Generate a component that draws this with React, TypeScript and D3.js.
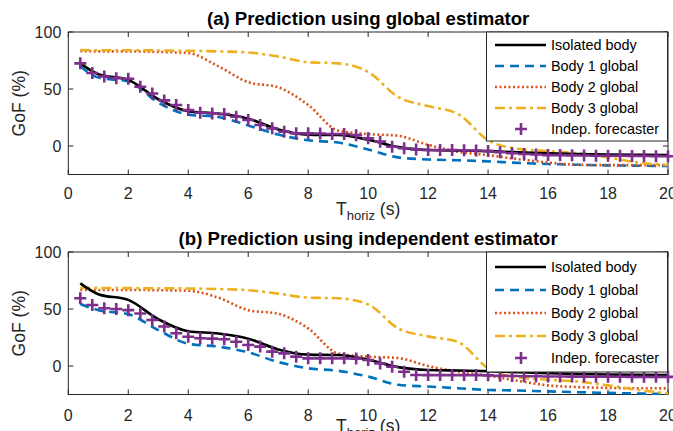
import { useEffect, useRef } from 'react';
import * as d3 from 'd3';

const W = 673;
const H = 431;

// time grid for the lines (s)
const lineT = [0.4, 1, 2, 3, 4, 5, 6, 7, 8, 9, 10, 11, 12, 13, 14, 15, 16, 17, 18, 19, 20];
// time grid for the independent forecaster markers (s)
const markT = d3.range(1, 51).map(i => +(i * 0.4).toFixed(1));

const isolated = [72.5, 63, 58, 41, 30.5, 28.5, 24, 14.5, 10, 9.6, 5.5, -1, -3.5, -4, -4.5, -5.5, -6.3, -7, -7.5, -7.8, -8];

const globalB1 = [70, 60, 56.5, 38, 27.5, 25.5, 18, 10, 5, 3, -3, -10, -11.8, -12.5, -13.5, -14.8, -15.8, -16.5, -17, -17.3, -17.5];
const globalB2 = [83.3, 83, 83, 82.5, 81.5, 70, 56, 51.5, 36, 13.5, 10.5, 9, 1, -5, -8, -11.5, -14.5, -16.5, -16.8, -16.8, -16.7];
const globalB3 = [84.2, 84, 84, 83.8, 83.5, 83, 82, 78.5, 73.5, 72.5, 65, 43, 35, 28, 5, -2.5, -4.5, -6.4, -10, -14.5, -16.7];
const globalIndep = [72.5, 64, 61, 59.5, 59, 52, 46, 40, 36, 31.5, 29.2, 28.6, 28, 25.7, 22.8, 18.4, 15.5, 12.6, 11.1, 11.1,
  11, 10.5, 10.5, 9.5, 6.7, 3.8, -0.6, -2, -3, -3.5, -3.5, -3.5, -3.8, -4, -4.4, -5.5, -6.4, -7, -7.5, -8,
  -8, -8.2, -8.3, -8.5, -8.5, -8.6, -8.7, -8.8, -8.9, -9];

const indepB1 = [54.4, 49, 45.5, 31.5, 19.5, 17, 12, 3.5, -2, -4.2, -9.3, -16.5, -18, -19.5, -21, -21.5, -22.3, -23, -23.6, -24.1, -24.5];
const indepB2 = [66.7, 66.7, 66.7, 66.5, 66, 60, 49, 45.8, 33, 11, 8.2, 7, 0, -5, -8.5, -13, -17, -18.5, -19.2, -19.5, -19.6];
const indepB3 = [68.7, 68.5, 68.3, 68.2, 68, 67.5, 66.5, 63.5, 60, 59.4, 54, 33, 26, 21, -2, -10, -12, -13.7, -17, -21, -24];
const indepIndep = [59.4, 53.5, 50.6, 50, 49, 46, 40.4, 34.6, 28.7, 25.7, 24.3, 24, 23.4, 21.3, 18.4, 17, 12.6, 11.1, 8.2, 6.7,
  6.7, 6.7, 6.7, 6.5, 5.3, 2.3, -0.6, -5, -7.9, -8, -8, -8, -8, -8, -8.2, -8.5, -8.8, -9, -9, -9.2,
  -9.2, -9.3, -9.3, -9.4, -9.4, -9.4, -9.5, -9.5, -9.5, -9.5];

const xTicks = [0, 2, 4, 6, 8, 10, 12, 14, 16, 18, 20];
const yTicks = [0, 50, 100];
const legendLabels = ['Isolated body', 'Body 1 global', 'Body 2 global', 'Body 3 global', 'Indep. forecaster'];

const styles = [
  { color: '#000000', dash: null, width: 2.6 },
  { color: '#0072BD', dash: '9,6', width: 2.6 },
  { color: '#D95319', dash: '2,2.5', width: 2.6 },
  { color: '#EDB120', dash: '10,4,3,4', width: 2.6 },
];
const purple = '#7E2F8E';
const axisColor = '#262626';
const font = 'Liberation Sans, Arial, Helvetica, sans-serif';

const xScale = d3.scaleLinear([0, 20], [68.3, 668]);

const panels = [
  {
    title: '(a) Prediction using global estimator',
    top: 32, bottom: 174.5, tickDy: 24, labelDy: 40.5,
    lines: [isolated, globalB1, globalB2, globalB3],
    marks: globalIndep,
    legend: { top: 32, bottom: 141, rows: [45, 66, 87, 108, 129] },
  },
  {
    title: '(b) Prediction using independent estimator',
    top: 252, bottom: 394.5, tickDy: 26.5, labelDy: 37,
    lines: [isolated, indepB1, indepB2, indepB3],
    marks: indepIndep,
    legend: { top: 252, bottom: 372, rows: [267, 290, 313, 336, 358] },
  },
];

export default function App() {
  const svgRef = useRef<SVGSVGElement>(null);

  useEffect(() => {
    const svg = d3.select(svgRef.current);
    svg.selectAll('*').remove();
    svg.append('rect').attr('width', W).attr('height', H).attr('fill', '#fff');

    const [x0, x1] = xScale.range();

    panels.forEach(p => {
      const yScale = d3.scaleLinear([-25, 100], [p.bottom, p.top]);
      const g = svg.append('g');

      // title
      g.append('text').attr('x', (x0 + x1) / 2).attr('y', p.top - 7)
        .attr('text-anchor', 'middle').attr('font-family', font).attr('font-weight', 'bold')
        .attr('font-size', 18.6).attr('fill', '#000').text(p.title);

      // box
      g.append('rect').attr('x', x0).attr('y', p.top).attr('width', x1 - x0).attr('height', p.bottom - p.top)
        .attr('fill', 'none').attr('stroke', axisColor).attr('stroke-width', 1);

      // ticks (inward, all sides)
      xTicks.forEach(t => {
        const x = xScale(t);
        g.append('line').attr('x1', x).attr('x2', x).attr('y1', p.bottom).attr('y2', p.bottom - 5)
          .attr('stroke', axisColor);
        g.append('line').attr('x1', x).attr('x2', x).attr('y1', p.top).attr('y2', p.top + 5)
          .attr('stroke', axisColor);
        g.append('text').attr('x', x).attr('y', p.bottom + p.tickDy).attr('text-anchor', 'middle')
          .attr('font-family', font).attr('font-size', 16).attr('fill', axisColor).text(t);
      });
      yTicks.forEach(t => {
        const y = yScale(t);
        g.append('line').attr('x1', x0).attr('x2', x0 + 5).attr('y1', y).attr('y2', y).attr('stroke', axisColor);
        g.append('line').attr('x1', x1).attr('x2', x1 - 5).attr('y1', y).attr('y2', y).attr('stroke', axisColor);
        g.append('text').attr('x', x0 - 7).attr('y', y + 6).attr('text-anchor', 'end')
          .attr('font-family', font).attr('font-size', 16).attr('fill', axisColor).text(t);
      });

      // axis labels
      const xl = g.append('text').attr('x', (x0 + x1) / 2).attr('y', p.bottom + p.labelDy).attr('text-anchor', 'middle')
        .attr('font-family', font).attr('font-size', 17.6).attr('fill', axisColor);
      xl.append('tspan').text('T');
      xl.append('tspan').attr('font-size', 13).attr('dy', 5).text('horiz');
      xl.append('tspan').attr('dy', -5).text(' (s)');
      g.append('text').attr('transform', `translate(25,${(p.top + p.bottom) / 2}) rotate(-90)`)
        .attr('text-anchor', 'middle').attr('font-family', font).attr('font-size', 17.6)
        .attr('fill', axisColor).text('GoF (%)');

      // lines
      const line = d3.line<number>().x((_, i) => xScale(lineT[i])).y(d => yScale(d)).curve(d3.curveMonotoneX);
      [1, 2, 3, 0].forEach(k => {
        const s = styles[k];
        g.append('path').datum(p.lines[k]).attr('d', line).attr('fill', 'none')
          .attr('stroke', s.color).attr('stroke-width', s.width)
          .attr('stroke-dasharray', s.dash).attr('stroke-linejoin', 'round');
      });

      // markers
      const plus = (sel: any, x: number, y: number) => {
        sel.append('path').attr('d', `M${x - 6},${y}H${x + 6}M${x},${y - 6}V${y + 6}`)
          .attr('stroke', purple).attr('stroke-width', 2.6).attr('fill', 'none');
      };
      p.marks.forEach((v, i) => plus(g, xScale(markT[i]), yScale(v)));

      // legend
      const L = p.legend;
      g.append('rect').attr('x', 486.5).attr('y', L.top).attr('width', 181).attr('height', L.bottom - L.top)
        .attr('fill', '#fff').attr('stroke', axisColor).attr('stroke-width', 1);
      legendLabels.forEach((lab, i) => {
        const y = L.rows[i];
        if (i < 4) {
          const s = styles[i];
          g.append('line').attr('x1', 495).attr('x2', 546).attr('y1', y).attr('y2', y)
            .attr('stroke', s.color).attr('stroke-width', s.width).attr('stroke-dasharray', s.dash);
        } else {
          plus(g, 521, y);
        }
        g.append('text').attr('x', 551).attr('y', y + 5).attr('font-family', font).attr('font-size', 14.4)
          .attr('fill', '#000').text(lab);
      });
    });
  }, []);

  return (
    <svg ref={svgRef} width={W} height={H} style={{ position: 'absolute', left: 0, top: 0 }} />
  );
}
